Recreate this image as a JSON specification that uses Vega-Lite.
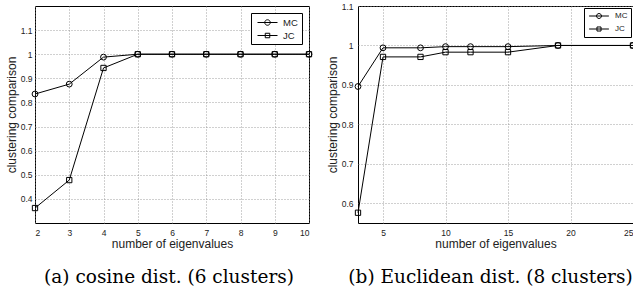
{
  "$schema": "https://vega.github.io/schema/vega-lite/v6.json",
  "padding": {"left": 4, "top": 1, "right": -6, "bottom": 0},
  "background": "white",
  "bounds": "flush",
  "spacing": 49,
  "config": {
    "view": {"stroke": "black", "strokeWidth": 1},
    "axis": {
      "labelFont": "Liberation Sans", "labelFontSize": 8.5, "labelColor": "#222",
      "titleFont": "Liberation Sans", "titleFontSize": 12, "titleFontWeight": "normal", "titleColor": "#222",
      "grid": true, "gridColor": "#888", "gridDash": [1, 2], "gridWidth": 0.8,
      "domain": false, "ticks": false
    },
    "axisX": {"labelPadding": 5, "titlePadding": 2},
    "axisY": {"labelPadding": 3, "titlePadding": 2},
    "title": {"font": "DejaVu Serif", "fontSize": 18.5, "fontWeight": "normal", "color": "black"}
  },
  "datasets": {
    "a": [
      {"k": 2, "method": "MC", "value": 0.835}, {"k": 3, "method": "MC", "value": 0.876},
      {"k": 4, "method": "MC", "value": 0.988}, {"k": 5, "method": "MC", "value": 1.0},
      {"k": 6, "method": "MC", "value": 1.0}, {"k": 7, "method": "MC", "value": 1.0},
      {"k": 8, "method": "MC", "value": 1.0}, {"k": 9, "method": "MC", "value": 1.0},
      {"k": 10, "method": "MC", "value": 1.0},
      {"k": 2, "method": "JC", "value": 0.362}, {"k": 3, "method": "JC", "value": 0.478},
      {"k": 4, "method": "JC", "value": 0.943}, {"k": 5, "method": "JC", "value": 1.0},
      {"k": 6, "method": "JC", "value": 1.0}, {"k": 7, "method": "JC", "value": 1.0},
      {"k": 8, "method": "JC", "value": 1.0}, {"k": 9, "method": "JC", "value": 1.0},
      {"k": 10, "method": "JC", "value": 1.0}
    ],
    "b": [
      {"k": 3, "method": "MC", "value": 0.896}, {"k": 5, "method": "MC", "value": 0.994},
      {"k": 8, "method": "MC", "value": 0.994}, {"k": 10, "method": "MC", "value": 0.997},
      {"k": 12, "method": "MC", "value": 0.997}, {"k": 15, "method": "MC", "value": 0.997},
      {"k": 19, "method": "MC", "value": 1.0}, {"k": 25, "method": "MC", "value": 1.0},
      {"k": 3, "method": "JC", "value": 0.576}, {"k": 5, "method": "JC", "value": 0.971},
      {"k": 8, "method": "JC", "value": 0.971}, {"k": 10, "method": "JC", "value": 0.983},
      {"k": 12, "method": "JC", "value": 0.983}, {"k": 15, "method": "JC", "value": 0.983},
      {"k": 19, "method": "JC", "value": 1.0}, {"k": 25, "method": "JC", "value": 1.0}
    ]
  },
  "hconcat": [
    {
      "width": 274, "height": 217,
      "title": {"text": "(a) cosine dist. (6 clusters)", "orient": "bottom", "anchor": "middle", "frame": "group", "offset": 18, "dx": -3},
      "data": {"name": "a"},
      "encoding": {
        "x": {"field": "k", "type": "quantitative", "scale": {"domain": [2, 10], "nice": false, "zero": false},
              "axis": {"values": [2, 3, 4, 5, 6, 7, 8, 9, 10], "title": "number of eigenvalues"}},
        "y": {"field": "value", "type": "quantitative", "scale": {"domain": [0.3, 1.2], "nice": false, "zero": false},
              "axis": {"values": [0.4, 0.5, 0.6, 0.7, 0.8, 0.9, 1.0, 1.1], "format": "~g", "title": "clustering comparison"}}
      },
      "layer": [
        {
          "mark": {"type": "line", "strokeWidth": 1},
          "encoding": {
            "color": {"field": "method", "type": "nominal", "scale": {"domain": ["MC", "JC"], "range": ["black", "black"]},
              "legend": {
                "title": null, "orient": "top-right", "offset": 7, "fillColor": "white", "strokeColor": "black",
                "padding": 4, "labelFont": "Liberation Sans", "labelFontSize": 9.5, "labelColor": "#222",
                "symbolType": "M-2,0H2", "symbolSize": 100, "symbolStrokeWidth": 1, "symbolStrokeColor": "black", "symbolFillColor": "transparent",
                "rowPadding": 2, "labelOffset": 10, "symbolOffset": 7,
                "encode": {"symbols": {"update": {
                  "shape": {"signal": "datum.value === 'MC' ? 'M-2,0H2M0.55,0A0.55,0.55,0,1,1,-0.55,0A0.55,0.55,0,1,1,0.55,0Z' : 'M-2,0H2M-0.45,-0.45H0.45V0.45H-0.45Z'"},
                  "fill": {"value": "transparent"}, "stroke": {"value": "black"}, "strokeWidth": {"value": 1}
                }}}
              }}
          }
        },
        {
          "transform": [{"filter": "datum.method === 'MC'"}],
          "mark": {"type": "point", "shape": "circle", "filled": false, "stroke": "black", "strokeWidth": 1, "opacity": 1, "size": 34}
        },
        {
          "transform": [{"filter": "datum.method === 'JC'"}],
          "mark": {"type": "point", "shape": "square", "filled": false, "stroke": "black", "strokeWidth": 1, "opacity": 1, "size": 28}
        }
      ]
    },
    {
      "width": 275, "height": 217,
      "title": {"text": "(b) Euclidean dist. (8 clusters)", "orient": "bottom", "anchor": "middle", "frame": "group", "offset": 18, "dx": -5},
      "data": {"name": "b"},
      "encoding": {
        "x": {"field": "k", "type": "quantitative", "scale": {"domain": [3, 25], "nice": false, "zero": false},
              "axis": {"values": [5, 10, 15, 20, 25], "title": "number of eigenvalues"}},
        "y": {"field": "value", "type": "quantitative", "scale": {"domain": [0.55, 1.1], "nice": false, "zero": false},
              "axis": {"values": [0.6, 0.7, 0.8, 0.9, 1.0, 1.1], "format": "~g", "title": "clustering comparison", "labelPadding": 5}}
      },
      "layer": [
        {
          "mark": {"type": "line", "strokeWidth": 1},
          "encoding": {
            "stroke": {"field": "method", "type": "nominal", "scale": {"domain": ["MC", "JC"], "range": ["black", "black"]},
              "legend": {
                "title": null, "orient": "top-right", "offset": 2, "fillColor": "white", "strokeColor": "black",
                "padding": 3, "labelFont": "Liberation Sans", "labelFontSize": 8, "labelColor": "#222",
                "symbolType": "M-2,0H2", "symbolSize": 81, "symbolStrokeWidth": 1, "symbolStrokeColor": "black", "symbolFillColor": "transparent",
                "rowPadding": 3, "labelOffset": 11, "symbolOffset": 7,
                "encode": {"symbols": {"update": {
                  "shape": {"signal": "datum.value === 'MC' ? 'M-2.2,0H2.2M0.55,0A0.55,0.55,0,1,1,-0.55,0A0.55,0.55,0,1,1,0.55,0Z' : 'M-2.2,0H2.2M-0.45,-0.45H0.45V0.45H-0.45Z'"},
                  "fill": {"value": "transparent"}, "stroke": {"value": "black"}, "strokeWidth": {"value": 1}
                }}}
              }}
          }
        },
        {
          "transform": [{"filter": "datum.method === 'MC'"}],
          "mark": {"type": "point", "shape": "circle", "filled": false, "stroke": "black", "strokeWidth": 1, "opacity": 1, "size": 34}
        },
        {
          "transform": [{"filter": "datum.method === 'JC'"}],
          "mark": {"type": "point", "shape": "square", "filled": false, "stroke": "black", "strokeWidth": 1, "opacity": 1, "size": 28}
        }
      ]
    }
  ],
  "resolve": {"scale": {"color": "independent", "stroke": "independent"}, "legend": {"color": "independent", "stroke": "independent"}}
}
